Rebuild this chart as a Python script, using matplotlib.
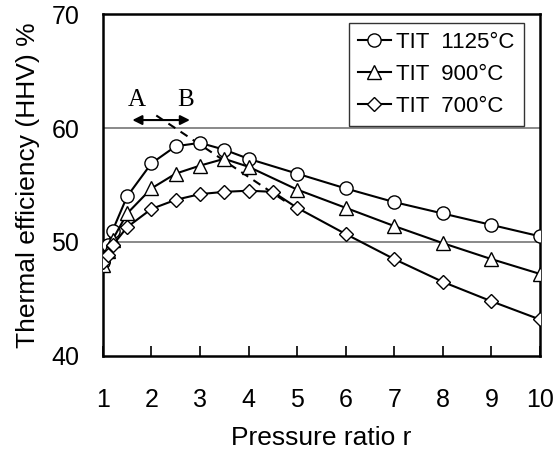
import matplotlib.pyplot as plt

plt.rcParams['font.family'] = ['Liberation Sans', 'DejaVu Sans']

# pressure ratio r
r = [1, 1.1, 1.2, 1.5, 2, 2.5, 3, 3.5, 4, 5, 6, 7, 8, 9, 10]
r_700 = [1, 1.1, 1.2, 1.5, 2, 2.5, 3, 3.5, 4, 4.5, 5, 6, 7, 8, 9, 10]

# thermal efficiency (HHV) %
eff_1125 = [48.2, 49.7, 51.0, 54.0, 56.9, 58.4, 58.7, 58.1, 57.3, 56.0, 54.7, 53.5, 52.5, 51.5, 50.5]
eff_900 = [48.0, 49.2, 50.2, 52.5, 54.7, 56.0, 56.7, 57.3, 56.6, 54.6, 53.0, 51.4, 49.9, 48.5, 47.2]
eff_700 = [48.2, 48.9, 49.7, 51.3, 52.9, 53.7, 54.2, 54.4, 54.5, 54.4, 53.0, 50.7, 48.5, 46.5, 44.8, 43.2]

labels = ['TIT  1125\u00b0C', 'TIT  900\u00b0C', 'TIT  700\u00b0C']

# dashed line through the maxima
opt_r = [2.1, 4.85]
opt_eff = [61.1, 53.3]

fig = plt.figure(figsize=(5.56, 4.54), dpi=100)
ax = fig.add_axes([0.185, 0.216, 0.786, 0.753])

ax.axhline(50, color='#808080', lw=1.3, zorder=1)
ax.axhline(60, color='#808080', lw=1.3, zorder=1)

ax.plot(r, eff_1125, '-o', color='black', lw=1.5, ms=9.5, mfc='white', mec='black', mew=1.0, label=labels[0], zorder=3)
ax.plot(r, eff_900, '-^', color='black', lw=1.5, ms=9.5, mfc='white', mec='black', mew=1.0, label=labels[1], zorder=3)
ax.plot(r_700, eff_700, '-D', color='black', lw=1.5, ms=7, mfc='white', mec='black', mew=1.0, label=labels[2], zorder=3)

ax.plot(opt_r, opt_eff, '--', color='black', lw=1.5, dashes=(4, 3), zorder=2)

ax.annotate('', xy=(1.55, 60.7), xytext=(2.85, 60.7),
            arrowprops=dict(arrowstyle='<|-|>', color='black', lw=1.5, mutation_scale=14))
ax.text(1.70, 61.5, 'A', fontsize=18, family='Liberation Serif', ha='center', va='bottom')
ax.text(2.71, 61.5, 'B', fontsize=18, family='Liberation Serif', ha='center', va='bottom')

ax.set_xlim(1, 10)
ax.set_ylim(40, 70)
ax.set_xticks(range(1, 11))
ax.set_yticks([40, 50, 60, 70])
ax.tick_params(axis='x', direction='in', length=7, width=1.2, pad=23, labelsize=18)
ax.tick_params(axis='y', length=0, pad=17, labelsize=18)
for s in ax.spines.values():
    s.set_linewidth(1.8)

ax.set_xlabel('Pressure ratio r', fontsize=19, labelpad=10)
ax.set_ylabel('Thermal efficiency (HHV) %', fontsize=19, labelpad=8)

leg = ax.legend(loc='upper right', bbox_to_anchor=(0.963, 0.975), fontsize=16, frameon=True,
                fancybox=False, edgecolor='black', handlelength=1.5, handletextpad=0.25,
                borderpad=0.4, labelspacing=0.5, borderaxespad=0.0)
leg.get_frame().set_linewidth(1.0)

fig.savefig('out.png', dpi=100)
